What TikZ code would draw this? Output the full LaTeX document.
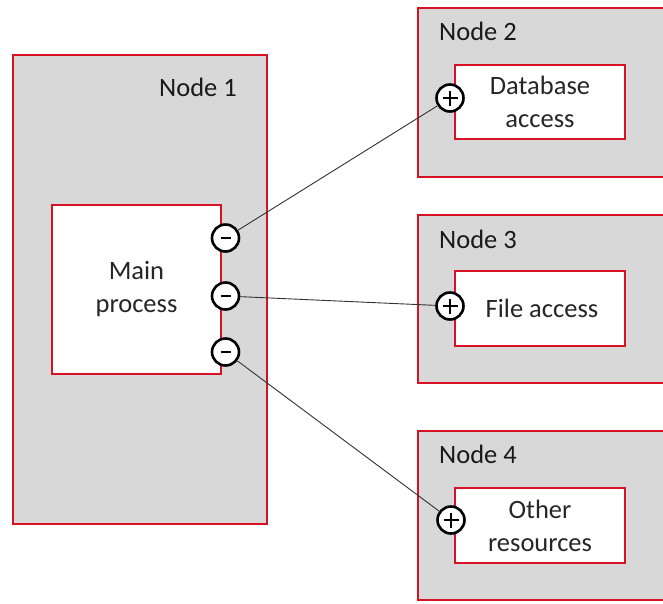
\documentclass[tikz,border=0pt]{standalone}
\usepackage{fontspec}
\setmainfont{Carlito}
\definecolor{boxred}{RGB}{214,18,36}
\definecolor{boxgray}{RGB}{216,216,216}
\definecolor{linkgray}{RGB}{50,50,50}
\tikzset{
  x=1pt, y=-1pt,
  host/.style={draw=boxred, fill=boxgray, line width=2.4pt, inner sep=0pt},
  proc/.style={draw=boxred, fill=white, line width=2.4pt, inner sep=0pt,
    align=center, font=\fontsize{26.5}{33}\selectfont, text=black!85},
  hostlabel/.style={inner sep=0pt, font=\fontsize{26.5}{31}\selectfont, text=black!90},
  port/.style={circle, draw=black, fill=white, line width=2.6pt,
    minimum size=27pt, inner sep=0pt},
  required/.style={port, path picture={
    \draw[line width=2.8pt]
      ([xshift=-5pt]path picture bounding box.center) --
      ([xshift=5pt]path picture bounding box.center);}},
  provided/.style={port, path picture={
    \draw[line width=2.6pt]
      ([xshift=-7.5pt]path picture bounding box.center) --
      ([xshift=7.5pt]path picture bounding box.center)
      ([yshift=-7.5pt]path picture bounding box.center) --
      ([yshift=7.5pt]path picture bounding box.center);}},
  link/.style={draw=linkgray, line width=0.9pt},
}
\begin{document}
\begin{tikzpicture}
\useasboundingbox (0,0) rectangle (663,603);
\fill[white] (0,0) rectangle (663,603);

% hosts
\node[host, minimum width=254pt, minimum height=469pt] (n1) at (140,289.5) {};
\node[host, minimum width=256pt, minimum height=169pt] (n2) at (546,92.5) {};
\node[host, minimum width=256pt, minimum height=168pt] (n3) at (546,299) {};
\node[host, minimum width=256pt, minimum height=169pt] (n4) at (546,515.5) {};

\node[hostlabel, anchor=base east] (l1) at (237,96) {Node 1};
\node[hostlabel, anchor=base west] (l2) at (439,40) {Node 2};
\node[hostlabel, anchor=base west] (l3) at (439,248) {Node 3};
\node[hostlabel, anchor=base west] (l4) at (439,463) {Node 4};

% processes
\node[proc, minimum width=169pt, minimum height=169pt] (main) at (136.5,289.5) {Main\\process};
\node[proc, minimum width=170pt, minimum height=74pt] (db) at (540,102) {Database\\access};
\node[proc, minimum width=170pt, minimum height=75pt] (file) at (540,308.5) {\hspace*{4pt}File access};
\node[proc, minimum width=170pt, minimum height=75pt] (other) at (540,525.5) {Other\\resources};

% ports
\node[required] (r1) at (225.5,238) {};
\node[required] (r2) at (225.5,296) {};
\node[required] (r3) at (225.5,352) {};
\node[provided] (p2) at (450,98) {};
\node[provided] (p3) at (450,306) {};
\node[provided] (p4) at (451,520) {};

% connectors
\draw[link] (r1) -- (p2);
\draw[link] (r2) -- (p3);
\draw[link] (r3) -- (p4);
\end{tikzpicture}
\end{document}
